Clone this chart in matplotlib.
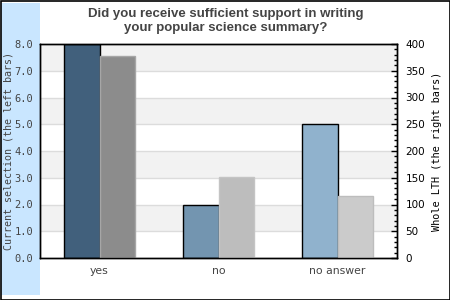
import matplotlib
matplotlib.use("Agg")
import matplotlib.pyplot as plt
from matplotlib.patches import Rectangle
from matplotlib.ticker import MultipleLocator
import numpy as np

# survey answers
categories = ["yes", "no", "no answer"]
current = [8.0, 2.0, 5.0]          # left axis
whole_lth = [377, 152, 116]        # right axis

left_colors = ["#41607c", "#7395b0", "#90b2cd"]
right_colors = ["#8c8c8c", "#bdbdbd", "#cbcbcb"]
right_edges = ["#a6a6a6", "#c4c4c4", "#bdbdbd"]

title = "Did you receive sufficient support in writing\nyour popular science summary?"
left_label = "Current selection (the left bars)"
right_label = "Whole LTH (the right bars)"

txt = "#444444"
mono = "DejaVu Sans Mono"

fig = plt.figure(figsize=(4.5, 3.0), dpi=100)
fig.patch.set_facecolor("white")

# light blue strip on the left and frame round the figure
fig.patches.append(Rectangle((1/450, 5/300), 39/450, 292/300, transform=fig.transFigure,
                             facecolor="#c9e6ff", edgecolor="none", zorder=-1))
fig.patches.append(Rectangle((0.5/450, 0.5/300), 449/450, 299/300, transform=fig.transFigure,
                             facecolor="none", edgecolor="black", linewidth=1.2, zorder=5))

ax1 = fig.add_axes([40/450, 1 - 258/300, 357/450, 214/300])
ax2 = ax1.twinx()

x = np.arange(len(categories))
w = 0.3

ax1.set_ylim(0, 8)
ax2.set_ylim(0, 400)
ax1.set_xlim(-0.5, len(categories) - 0.5)

# striped background
for lo in range(1, 8, 2):
    ax1.axhspan(lo, lo + 1, color="#f2f2f2", zorder=0, lw=0)
for y in range(1, 8):
    ax1.axhline(y, color="#dcdcdc", lw=1, zorder=0.5)

ax1.bar(x - w / 2, current, w, color=left_colors, edgecolor="black", linewidth=1, zorder=2)
ax2.bar(x + w / 2, whole_lth, w, color=right_colors, edgecolor=right_edges, linewidth=1, zorder=2)

ax1.set_xticks(x)
ax1.set_xticklabels(categories, fontfamily="DejaVu Sans", fontsize=7.8, color=txt)
ax1.tick_params(axis="x", length=0, pad=6)

ax1.yaxis.set_major_locator(MultipleLocator(1))
ax1.yaxis.set_major_formatter("{x:.1f}")
ax1.tick_params(axis="y", length=0, pad=5, labelsize=7.5, labelcolor=txt)
for lab in ax1.get_yticklabels():
    lab.set_fontfamily(mono)

ax2.yaxis.set_major_locator(MultipleLocator(50))
ax2.yaxis.set_minor_locator(MultipleLocator(10))
ax2.tick_params(axis="y", which="major", direction="in", length=4, width=1, pad=6,
                labelsize=7.5, labelcolor="black")
ax2.tick_params(axis="y", which="minor", direction="in", length=2.5, width=1)
for lab in ax2.get_yticklabels():
    lab.set_fontfamily("DejaVu Sans")

for ax in (ax1, ax2):
    for s in ax.spines.values():
        s.set_color("black")
        s.set_linewidth(1)

ax1.set_ylabel(left_label, fontfamily=mono, fontsize=7.2, color=txt, labelpad=0)
ax1.yaxis.set_label_coords(-26/357, 0.5)
ax2.set_ylabel(right_label, fontfamily=mono, fontsize=7.4, color="black", labelpad=0)
ax2.yaxis.set_label_coords(1 + 35/357, 0.5)

fig.text(226/450, 1 - 21/300, title, ha="center", va="center", fontfamily="Liberation Sans",
         fontweight="bold", fontsize=9.5, color=txt, linespacing=1.25)

fig.savefig("out.png", dpi=100)
